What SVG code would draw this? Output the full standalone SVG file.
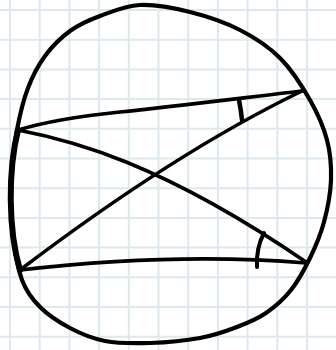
<svg xmlns="http://www.w3.org/2000/svg" width="336" height="350" viewBox="0 0 336 350">
<style>
.grid{stroke:#dde9ec;stroke-width:2;fill:none}
.ink{stroke:#000;fill:none;stroke-linecap:round;stroke-linejoin:round}
</style>
<rect width="336" height="350" fill="#fff"/>
<path class="grid" d="M10,0V350M39.7,0V350M69.4,0V350M99.1,0V350M128.8,0V350M158.5,0V350M188.2,0V350M217.9,0V350M247.6,0V350M277.3,0V350M307,0V350M0,10H336M0,39.7H336M0,69.4H336M0,99.1H336M0,128.8H336M0,158.5H336M0,188.2H336M0,217.9H336M0,247.6H336M0,277.3H336M0,307H336M0,336.7H336"/>
<g id="circle">
<path class="ink" stroke-width="4.2" d="M100,16 C111.7,11.7 125,5.7 140,5 C155,4.3 173.3,7.8 190,12 C206.7,16.2 225,22.3 240,30 C255,37.7 268.3,46.3 280,58 C291.7,69.7 302.2,86.3 310,100 C317.8,113.7 323.5,126.7 327,140 C330.5,153.3 331.5,166.3 331,180 C330.5,193.7 327.5,209 324,222 C320.5,235 315.5,246.7 310,258 C304.5,269.3 298.3,280.8 291,290 C283.7,299.2 275,306.8 266,313 C257,319.2 248,322.8 237,327 C226,331.2 214.5,335.3 200,338 C185.5,340.7 165.8,342.5 150,343 C134.2,343.5 118.3,343.5 105,341 C91.7,338.5 80.8,333.7 70,328 C59.2,322.3 48,315 40,307 C32,299 26.5,292 22,280 C17.5,268 14.8,251.7 13,235 C11.2,218.3 10.3,197.5 11,180 C11.7,162.5 14.2,145.3 17,130 C19.8,114.7 23.3,100.3 28,88 C32.7,75.7 38,65.5 45,56 C52,46.5 60.8,37.7 70,31 C79.2,24.3 88.3,20.3 100,16 Z"/>
</g>
<g id="lines">
<path id="AD" class="ink" stroke-width="6" d="M18,130 C8,170 8,230 20,270"/>
<path id="AB" class="ink" stroke-width="3.6" d="M18,130 C38,124 70,117 120,112 S250,97 302,91"/>
<path id="DC" class="ink" stroke-width="3.6" d="M20,270 C90,262 200,254 306,263"/>
<path id="AC" class="ink" stroke-width="3.6" d="M18,130 C70,140 160,162 306,262"/>
<path id="DB" class="ink" stroke-width="3.6" d="M20,270 C70,232 180,150 302,91"/>
</g>
<g id="angles">
<path class="ink" stroke-width="4.5" d="M239,100 Q241,110 242,120"/>
<path class="ink" stroke-width="4" d="M264,233 Q256,248 257,267"/>
</g>
</svg>
